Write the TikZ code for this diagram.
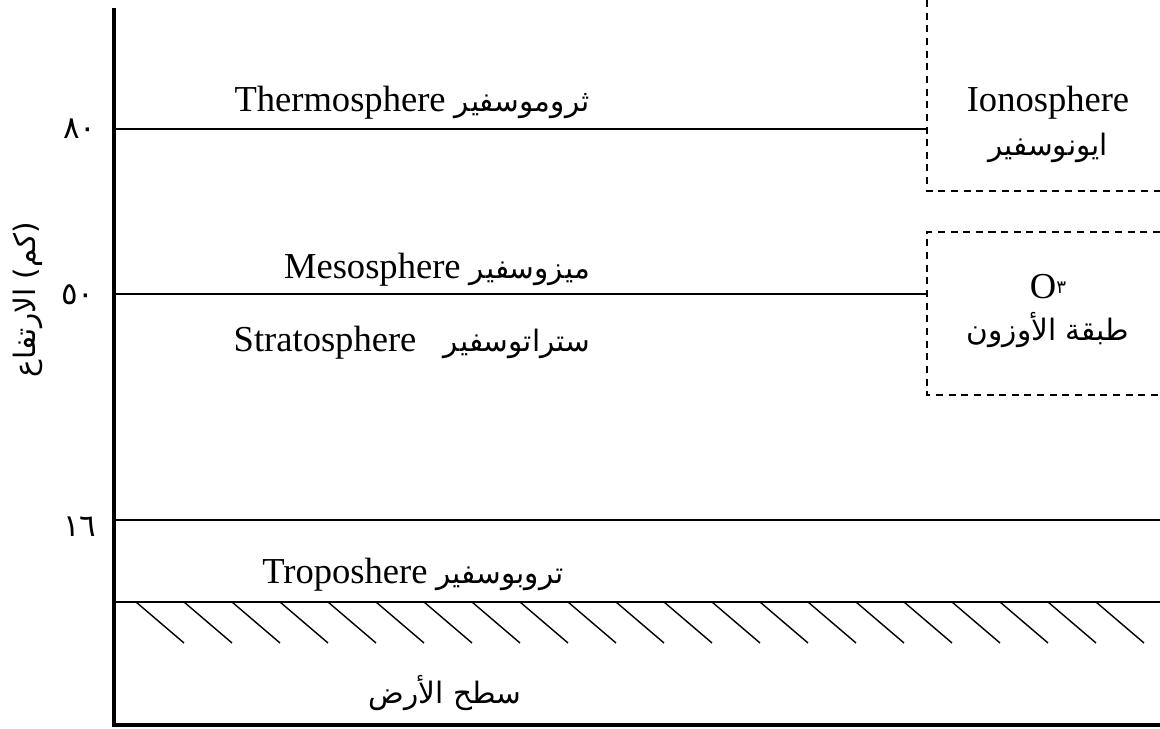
\documentclass[tikz,border=0pt]{standalone}
\usepackage{fontspec}
\setmainfont{Liberation Serif}
\newfontfamily\arabicfont[Script=Arabic]{DejaVu Sans}
\TeXXeTstate=1
\usetikzlibrary{positioning}
\newcommand{\arword}[1]{{\arabicfont\fontsize{21}{25}\selectfont\beginR #1\endR}}
\tikzset{
  lbl/.style={font=\fontsize{26}{30}\selectfont, inner sep=0pt},
  arlbl/.style={font=\fontsize{21}{25}\selectfont\arabicfont, inner sep=0pt},
  layer/.style={line width=1.1pt},
  zone/.style={line width=0.8pt, dash pattern=on 5pt off 4pt},
  hatch/.style={line width=1pt}
}

\begin{document}
\begin{tikzpicture}
  \useasboundingbox (0,0) rectangle (29,18.225);
  % Axes
  \draw[line width=2.6pt] (2.85,18.025) -- (2.85,0.1) -- (29,0.1);
  % Layer boundaries
  \draw[layer] (2.85,15.0) -- (23.175,15.0);
  \draw[layer] (2.85,10.875) -- (23.175,10.875);
  \draw[layer] (2.85,5.225) -- (29,5.225);
  \draw[layer] (2.85,3.175) -- (29,3.175);
  % Ground hatching
  \foreach \k in {0,...,20}
    \draw[hatch] ({3.4+1.2*\k},3.175) -- ++(1.2,-1.025);
  % Ionosphere and ozone zones
  \draw[zone] (23.175,18.225) -- (23.175,13.45) -- (29,13.45);
  \draw[zone] (29,12.425) -- (23.175,12.425) -- (23.175,8.35) -- (29,8.35);
  % Layer names
  \node[lbl] (thermo) at (10.3,15.65) {Thermosphere \arword{ثروموسفير}};
  \node[lbl] (meso) at (10.925,11.475) {Mesosphere \arword{ميزوسفير}};
  \node[lbl] (strato) at (10.3,9.65) {Stratosphere\hspace{0.5em} \arword{ستراتوسفير}};
  \node[lbl] (tropo) at (10.325,3.85) {Troposhere \arword{تروبوسفير}};
  \node[arlbl] (ground) at (11.125,0.9) {\beginR سطح الأرض\endR};
  % Zone names
  \node[lbl] (iono) at (26.2,15.65) {Ionosphere};
  \node[arlbl] (ionoar) at (26.2,14.525) {\beginR ايونوسفير\endR};
  \node[lbl] (ozone) at (26.2,11.05) {O\raisebox{0.35ex}{\arabicfont\fontsize{13}{13}\selectfont ٣}};
  \node[arlbl] (ozonear) at (26.2,9.975) {\beginR طبقة الأوزون\endR};
  % Altitude ticks
  \node[arlbl, font=\fontsize{22}{26}\selectfont\arabicfont] (t80) at (2.0,15.0) {٨٠};
  \node[arlbl, font=\fontsize{22}{26}\selectfont\arabicfont] (t50) at (1.95,10.85) {٥٠};
  \node[arlbl, font=\fontsize{22}{26}\selectfont\arabicfont] (t16) at (2.0,5.05) {١٦};
  \node[arlbl, rotate=90] (alt) at (0.7,10.725) {\beginR (كم) الارتفاع\endR};
\end{tikzpicture}
\end{document}
